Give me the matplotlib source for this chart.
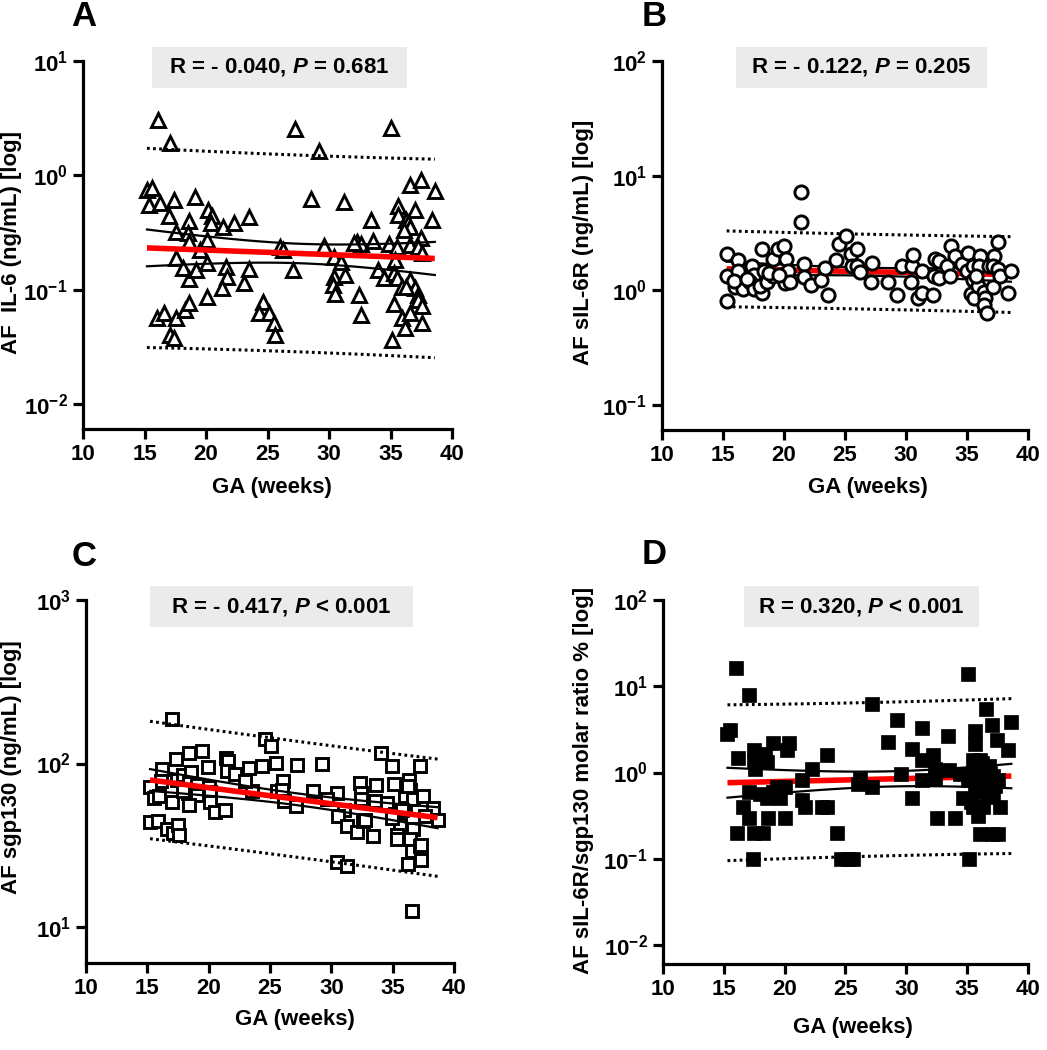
import matplotlib
matplotlib.use("Agg")
import matplotlib.pyplot as plt
from matplotlib.patches import Rectangle
import numpy as np

plt.rcParams['font.family'] = ['Liberation Sans', 'DejaVu Sans']
plt.rcParams['font.weight'] = 'bold'
plt.rcParams['mathtext.fontset'] = 'custom'
plt.rcParams['mathtext.rm'] = 'Liberation Sans:bold'
plt.rcParams['mathtext.bf'] = 'Liberation Sans:bold'
plt.rcParams['mathtext.it'] = 'Liberation Sans:bold:italic'

# ---- data ----
ga_il6 = [16.1, 17.1, 27.2, 29.2, 35.0, 15.2, 15.6, 15.4, 16.3, 17.4, 19.1, 17.0, 20.2, 20.5, 20.4,
          18.6, 17.6, 18.5, 18.6, 20.1, 21.4, 22.3, 23.5, 19.5, 17.6, 18.1, 18.6, 19.2, 20.1, 21.6,
          21.7, 21.3, 23.1, 23.5, 20.1, 16.0, 16.6, 17.6, 17.1, 17.4, 18.3, 18.6, 24.6, 24.3, 25.1,
          25.5, 25.6, 26.0, 26.3, 27.1, 28.5, 29.6, 31.2, 30.4, 31.0, 30.4, 30.3, 31.3, 30.5, 32.4,
          32.6, 32.3, 32.6, 33.4, 33.6, 34.0, 34.5, 34.9, 35.6, 35.6, 35.5, 35.4, 35.3, 35.5, 35.9,
          35.3, 35.1, 35.9, 36.2, 36.6, 36.6, 37.5, 38.6, 38.4, 37.0, 36.3, 36.4, 36.6, 36.1, 36.6,
          37.5, 37.2, 37.6, 36.6, 37.0, 36.3, 37.2, 37.2, 37.6, 37.6, 32.0]
il6 = [3.05, 1.93, 2.56, 1.64, 2.59, 0.75, 0.77, 0.55, 0.57, 0.61, 0.65, 0.44, 0.50, 0.44, 0.385,
       0.40, 0.32, 0.31, 0.26, 0.27, 0.355, 0.385, 0.435, 0.222, 0.188, 0.154, 0.123, 0.149, 0.17, 0.159,
       0.13, 0.103, 0.114, 0.151, 0.086, 0.056, 0.062, 0.056, 0.040, 0.0375, 0.066, 0.076, 0.0785, 0.062, 0.062,
       0.051, 0.040, 0.238, 0.222, 0.149, 0.62, 0.24, 0.58, 0.194, 0.176, 0.130, 0.11, 0.134, 0.092, 0.090,
       0.060, 0.263, 0.251, 0.41, 0.268, 0.147, 0.126, 0.25, 0.54, 0.45, 0.235, 0.182, 0.139, 0.126, 0.105,
       0.075, 0.036, 0.056, 0.046, 0.062, 0.82, 0.91, 0.73, 0.41, 0.50, 0.41, 0.38, 0.355, 0.333, 0.246,
       0.281, 0.238, 0.211, 0.122, 0.103, 0.106, 0.090, 0.081, 0.072, 0.051, 0.254]

ga_sil6r = [21.4, 21.4, 15.3, 16.2, 15.3, 15.3, 16.2, 16.0, 16.6, 17.4, 17.5, 17.2, 17.5, 18.2, 18.0,
            18.2, 18.4, 18.6, 19.1, 19.1, 19.5, 20.0, 20.2, 20.3, 20.1, 20.5, 21.6, 21.6, 22.2, 23.0,
            23.4, 23.6, 24.3, 24.5, 25.1, 25.5, 26.0, 25.6, 26.0, 26.2, 27.2, 27.1, 28.5, 29.3, 29.7,
            30.5, 30.6, 30.4, 31.3, 31.0, 31.3, 32.2, 32.4, 32.7, 32.3, 32.7, 33.4, 33.7, 34.0, 33.6,
            34.6, 35.1, 35.0, 35.3, 35.6, 35.5, 36.1, 36.0, 35.5, 35.9, 36.4, 36.5, 36.4, 36.6, 36.8,
            37.2, 37.1, 37.1, 37.5, 37.5, 37.7, 38.4, 38.6, 35.7, 15.9, 17.0, 18.8, 19.6]
sil6r = [7.25, 3.97, 2.07, 1.84, 1.32, 0.80, 1.48, 1.06, 1.02, 1.63, 1.36, 1.19, 1.02, 0.94, 1.08,
         2.28, 1.48, 1.19, 1.33, 1.86, 2.28, 2.44, 1.86, 1.46, 1.15, 1.19, 1.69, 1.30, 1.11, 1.23,
         1.55, 0.90, 1.84, 2.52, 3.0, 2.07, 2.28, 1.61, 1.61, 1.43, 1.72, 1.19, 1.19, 0.91, 1.61,
         1.61, 2.03, 1.19, 1.46, 0.86, 0.95, 0.90, 1.86, 1.78, 1.32, 1.27, 1.63, 2.44, 1.97, 1.33,
         1.69, 2.10, 1.48, 0.92, 0.85, 1.61, 2.0, 1.61, 1.23, 1.08, 0.97, 0.85, 0.745, 0.63, 1.61,
         2.0, 1.61, 1.06, 1.52, 2.61, 1.32, 0.94, 1.48, 1.32, 1.20, 1.25, 1.40, 1.35]

ga_sgp130 = [16.98, 24.59, 25.08, 17.33, 18.42, 19.43, 19.97, 21.41, 21.6, 21.52, 22.14, 23.31, 24.32, 25.46,
             27.17, 16.17, 16.09, 15.22, 15.54, 15.95, 17.03, 17.39, 17.93, 18.53, 18.42, 19.07, 18.34, 19.07,
             18.42, 20.05, 20.11, 20.11, 20.51, 21.33, 23.5, 22.96, 25.54, 26.03, 25.95, 26.14, 27.11, 15.22,
             15.9, 16.58, 17.12, 17.52, 17.6, 17.93,
             29.21, 34.04, 34.96, 37.22, 32.33, 33.61, 35.1, 36.32, 36.41, 28.53, 30.43, 29.62, 32.41, 32.41,
             33.55, 34.5, 31.05, 30.51, 31.24, 32.06, 32.6, 33.41, 35.18, 35.59, 35.32, 35.32, 36.0, 36.0,
             36.68, 37.49, 38.31, 38.66, 37.63, 36.68, 36.41, 36.54, 37.22, 37.3, 36.27, 30.43, 31.24, 36.54,
             37.35, 36.27, 35.73, 34.91, 32.74]
sgp130 = [188, 142, 128, 106, 116, 119, 95, 108, 103, 90, 86, 94, 96, 101,
          97.6, 92, 78.7, 72, 61.6, 63, 58.2, 79.8, 84.5, 88.5, 76.2, 74.3, 66.2, 64.6,
          56.1, 72, 66.7, 57.9, 50.3, 52.3, 67.6, 77.9, 67.6, 77.9, 68.7, 58.8, 54.8, 43.7,
          44.8, 39.8, 37.6, 42.3, 36.7, 67.6,
          99.6, 116, 97.2, 96.3, 76.2, 73.6, 75.1, 79, 68.7, 67.6, 66, 60.8, 66, 60.8,
          58.8, 57.4, 51.8, 47.6, 41.3, 38.2, 44.4, 36.2, 48.8, 42.3, 36.7, 34.3, 61.6, 53.6,
          60.3, 63.1, 53.6, 45.4, 47.6, 39.5, 34.3, 29.1, 31.5, 25.8, 24.4, 24.9, 23.7, 12.6,
          31.9, 72.6, 52.3, 46.5, 45.4]

ga_ratio = [15.99, 17.08, 27.2, 35.08, 29.2, 28.51, 36.52, 38.63, 31.25, 33.43, 30.43, 32.2, 31.25, 29.6,
            30.43, 31.25, 32.5, 34.0, 33.52, 32.34, 32.34, 35.63, 35.63, 37.07, 37.45, 38.36, 36.04, 35.22,
            35.63, 34.67, 35.49, 36.31, 37.68, 36.04, 37.07, 37.54, 35.14, 36.58, 37.12, 36.45, 37.54, 34.4,
            15.3, 15.52, 16.2, 17.44, 17.44, 18.4, 18.53, 17.57, 19.07, 20.39, 20.17, 23.51, 22.22, 21.4,
            20.04, 17.03, 17.98, 19.07, 18.53, 19.63, 21.4, 16.56, 21.68, 23.04, 23.45, 17.1, 18.59, 20.04,
            16.07, 17.44, 18.26, 24.27, 17.38, 24.6, 25.23, 25.64, 26.19, 27.15, 26.05, 35.49, 35.08, 35.9,
            36.86, 19.35, 36.0, 36.3, 35.8, 36.6, 36.9, 37.3, 35.3,
            35.6, 36.2, 36.8, 35.9, 36.5, 37.1, 35.4, 36.1]
ratio = [16.4, 8.0, 6.3, 13.7, 4.04, 2.27, 5.38, 3.87, 3.24, 2.66, 1.86, 1.59, 1.41, 0.97,
         0.50, 0.81, 0.30, 0.30, 1.06, 1.11, 0.85, 3.04, 2.13, 3.54, 2.37, 1.82, 1.39, 0.97,
         0.68, 0.50, 0.40, 0.40, 0.40, 0.196, 0.196, 0.196, 0.10, 0.81, 0.52, 1.06, 0.81, 0.97,
         2.83, 3.1, 1.49, 1.82, 1.39, 1.66, 1.33, 1.11, 2.17, 2.17, 1.82, 1.59, 1.11, 0.81,
         0.68, 0.60, 0.57, 0.60, 0.50, 0.50, 0.48, 0.40, 0.40, 0.40, 0.40, 0.30, 0.30, 0.30,
         0.20, 0.20, 0.20, 0.20, 0.099, 0.10, 0.10, 0.10, 0.85, 0.68, 0.74, 1.39, 0.81, 0.31,
         0.68, 0.68, 1.2, 0.9, 0.6, 0.55, 1.0, 0.7, 0.45,
         1.25, 1.3, 1.2, 1.05, 0.95, 0.9, 0.85, 0.75]

letters = ['A', 'B', 'C', 'D']
stats = ['R = - 0.040, $P$ = 0.681', 'R = - 0.122, $P$ = 0.205',
         'R = - 0.417, $P$ < 0.001', 'R = 0.320, $P$ < 0.001']
ylabels = ['AF  IL-6 (ng/mL) [log]', 'AF sIL-6R (ng/mL) [log]',
           'AF sgp130 (ng/mL) [log]', 'AF sIL-6R/sgp130 molar ratio % [log]']
decades = [(-2, 1), (-1, 2), (1, 3), (-2, 2)]


def bands(x, y, t=1.98):
    x = np.asarray(x, float)
    ly = np.log10(np.asarray(y, float))
    n = len(x)
    b, a = np.polyfit(x, ly, 1)
    s = np.sqrt(np.sum((ly - (a + b * x)) ** 2) / (n - 2))
    xs = np.linspace(x.min(), x.max(), 100)
    yh = a + b * xs
    sxx = np.sum((x - x.mean()) ** 2)
    ci = t * s * np.sqrt(1 / n + (xs - x.mean()) ** 2 / sxx)
    pi = t * s * np.sqrt(1 + 1 / n + (xs - x.mean()) ** 2 / sxx)
    return xs, 10 ** yh, 10 ** (yh - ci), 10 ** (yh + ci), 10 ** (yh - pi), 10 ** (yh + pi)


W, H = 1047, 1050
fig = plt.figure(figsize=(W / 100, H / 100), dpi=100)

# axes boxes in pixels: left, top, right, bottom
boxes = [(83, 61, 452, 429), (662, 61, 1028, 430), (86, 600, 454, 963), (663, 600, 1028, 964)]
stat_boxes = [(152, 47, 407, 88), (736, 47, 987, 88), (150, 586, 413, 627), (744, 586, 979, 627)]
letter_pos = [(84, 17), (654, 17), (84, 556), (654, 555)]
ylab_pos = [(12, 242), (584, 242), (12, 767), (584, 780)]
xlab_pos = [(272, 488), (868, 488), (295, 1020), (853, 1028)]
bottoms = [-2.22, -1.22, 0.78, -2.22]

series = [(ga_il6, il6), (ga_sil6r, sil6r), (ga_sgp130, sgp130), (ga_ratio, ratio)]
markers = [dict(marker='^', ms=10.5, mfc='white', mec='black', mew=2.1),
           dict(marker='o', ms=9.5, mfc='white', mec='black', mew=2.1),
           dict(marker='s', ms=8.5, mfc='white', mec='black', mew=2.1),
           dict(marker='s', ms=10.5, mfc='black', mec='black', mew=0.5)]
line_on_top = [True, False, True, False]

for i in range(4):
    l, t_, r, b_ = boxes[i]
    ax = fig.add_axes([l / W, 1 - b_ / H, (r - l) / W, (b_ - t_) / H])
    x, y = series[i]
    z_ln = 4 if line_on_top[i] else 2
    ax.plot(x, y, ls='none', zorder=3, clip_on=False, **markers[i])
    xs, yh, clo, chi, plo, phi = bands(x, y)
    ax.plot(xs, yh, color='#ff0000', lw=4, zorder=z_ln, solid_capstyle='butt')
    ax.plot(xs, clo, color='black', lw=1.6, zorder=z_ln)
    ax.plot(xs, chi, color='black', lw=1.6, zorder=z_ln)
    ax.plot(xs, plo, color='black', lw=2.2, ls=(0, (0.9, 1.1)), zorder=z_ln)
    ax.plot(xs, phi, color='black', lw=2.2, ls=(0, (0.9, 1.1)), zorder=z_ln)

    lo, hi = decades[i]
    ax.set_yscale('log')
    ax.set_ylim(10 ** bottoms[i], 10 ** hi)
    ax.set_xlim(10, 40)
    ax.set_xticks(range(10, 41, 5))
    ax.set_xticklabels([str(v) for v in range(10, 41, 5)])
    ax.set_yticks([10.0 ** k for k in range(lo, hi + 1)])
    ax.set_yticklabels([r'$\mathbf{10^{%d}}$' % k for k in range(lo, hi + 1)])
    ax.yaxis.set_minor_locator(matplotlib.ticker.NullLocator())
    for side in ['top', 'right']:
        ax.spines[side].set_visible(False)
    for side in ['left', 'bottom']:
        ax.spines[side].set_linewidth(2.3)
    ax.tick_params(width=2.3, length=7, labelsize=16, pad=4)
    for lab in ax.get_xticklabels() + ax.get_yticklabels():
        lab.set_fontweight('bold')

    # stat box
    sl, st, sr, sb = stat_boxes[i]
    fig.patches.append(Rectangle((sl / W, 1 - sb / H), (sr - sl) / W, (sb - st) / H,
                                 transform=fig.transFigure, facecolor='#ebebeb',
                                 edgecolor='none', zorder=0))
    fig.text((sl + sr) / 2 / W, 1 - (st + sb) / 2 / H, stats[i], ha='center', va='center',
             fontsize=16, fontweight='bold')

    lx, ly = letter_pos[i]
    fig.text(lx / W, 1 - ly / H, letters[i], ha='center', va='center', fontsize=25, fontweight='bold')
    yx, yy = ylab_pos[i]
    fig.text(yx / W, 1 - yy / H, ylabels[i], rotation=90, ha='center', va='center',
             fontsize=16, fontweight='bold')
    xx, xy = xlab_pos[i]
    fig.text(xx / W, 1 - xy / H, 'GA (weeks)', ha='center', va='center', fontsize=16, fontweight='bold')

fig.savefig('out.png', dpi=100)
